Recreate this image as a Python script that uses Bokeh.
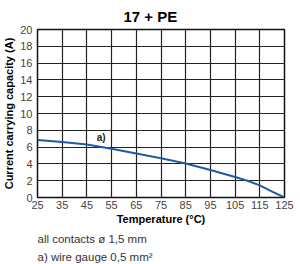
from bokeh.plotting import figure
from bokeh.models import Title, Label, FixedTicker
from bokeh.embed import file_html
from bokeh.resources import INLINE

temps = [25, 35, 45, 55, 65, 75, 85, 95, 105, 110, 115, 120, 125]
current = [6.85, 6.6, 6.3, 5.8, 5.25, 4.67, 4.05, 3.27, 2.45, 2.0, 1.44, 0.7, 0.0]
x_ticks = [25, 35, 45, 55, 65, 75, 85, 95, 105, 115, 125]
y_ticks = [0, 2, 4, 6, 8, 10, 12, 14, 16, 18, 20]

FONT = "Liberation Sans"

p = figure(width=300, height=264, output_backend="svg", toolbar_location=None,
           x_range=(25, 125), y_range=(0, 20),
           min_border_left=37, min_border_right=16, min_border_top=25, min_border_bottom=67)

p.title.text = "17 + PE"
p.title.align = "left"
p.title.offset = 86
p.title.text_font = FONT
p.title.text_font_size = "15px"
p.title.text_font_style = "bold"
p.title.text_color = "#000000"

p.line(temps, current, line_color="#1f5aa6", line_width=2)
p.add_layout(Label(x=50.8, y=7.1, text="a)", text_font=FONT, text_font_size="10px",
                   text_font_style="bold",
                   text_color="#222222", text_align="center", text_baseline="middle"))

p.xaxis.ticker = FixedTicker(ticks=x_ticks)
p.yaxis.ticker = FixedTicker(ticks=y_ticks)
for ax in (p.xaxis[0], p.yaxis[0]):
    ax.major_tick_line_color = None
    ax.minor_tick_line_color = None
    ax.major_tick_out = 0
    ax.minor_tick_out = 0
    ax.major_tick_in = 0
    ax.axis_line_color = None
    ax.major_label_text_font = FONT
    ax.major_label_text_font_size = "11px"
    ax.major_label_text_color = "#444444"
    ax.axis_label_text_font = FONT
    ax.axis_label_text_font_size = "11px"
    ax.axis_label_text_font_style = "bold"
    ax.axis_label_text_color = "#000000"
    ax.major_label_standoff = 3
    ax.axis_label_standoff = 2
p.xaxis.axis_label = "Temperature (°C)"
p.yaxis.axis_label = "Current carrying capacity (A)"
p.xaxis.axis_label_standoff = 1
p.yaxis.major_label_standoff = 5

p.xgrid.ticker = FixedTicker(ticks=x_ticks)
p.ygrid.ticker = FixedTicker(ticks=y_ticks)
p.grid.grid_line_color = "#222222"
p.grid.grid_line_width = 1.2
p.grid.grid_line_alpha = 1.0
p.outline_line_color = "#111111"
p.outline_line_width = 1.5

n1 = Title(text="all contacts ø 1,5 mm", align="left", text_font=FONT, standoff=6,
           text_font_size="11.5px", text_font_style="normal", text_color="#333333")
n2 = Title(text="a) wire gauge 0,5 mm²", align="left", text_font=FONT, standoff=2,
           text_font_size="11.5px", text_font_style="normal", text_color="#333333")
p.add_layout(n1, "below")
p.add_layout(n2, "below")

open("out.html", "w").write(file_html(p, INLINE))
